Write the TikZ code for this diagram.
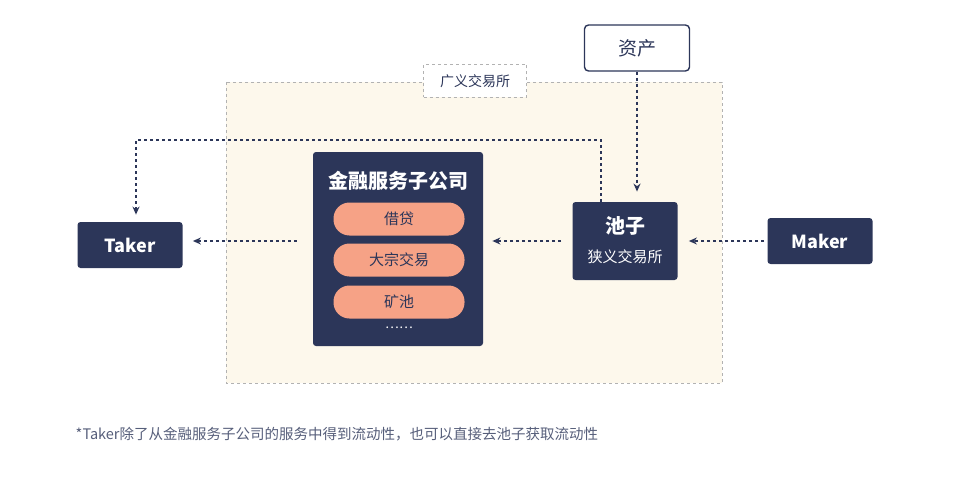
\documentclass[tikz,border=0pt]{standalone}
\usepackage{fontspec}
\setmainfont{Noto Sans CJK SC}
\usetikzlibrary{arrows.meta}
\definecolor{navy}{HTML}{2C3659}
\definecolor{salmon}{HTML}{F6A286}
\definecolor{cream}{HTML}{FDF8EC}
\begin{document}
\begin{tikzpicture}[x=1pt, y=-1pt, thick,
    dark/.style = {fill=navy, rounded corners=3pt, text=white, font=\fontsize{18}{20}\selectfont\bfseries, minimum width=105pt, minimum height=46pt},
    pill/.style = {fill=salmon, rounded corners=16pt, text=navy, font=\fontsize{15}{17}\selectfont, minimum width=131pt, minimum height=33pt},
    flow/.style = {navy, dashed, line width=1.4pt, -{Stealth[length=8pt,width=7pt]}}]
    \useasboundingbox (0,0) rectangle (960,476);
    \fill[cream] (226,82) rectangle (722,383);
    \draw[gray!60, dashed, line width=0.8pt] (226,82) rectangle (722,383);
    \node[draw=gray!60, dashed, fill=white, line width=0.8pt, minimum width=103pt, minimum height=33pt, font=\fontsize{14}{16}\selectfont, text=navy] (wide) at (475,81) {广义交易所};

    \node[draw=navy, fill=white, line width=1.4pt, rounded corners=4pt, minimum width=105pt, minimum height=46pt, font=\fontsize{19}{21}\selectfont, text=navy] (asset) at (637,48) {资产};
    \node[dark] (taker) at (130,245) {Taker};
    \node[dark] (maker) at (820,241) {Maker};
    \node[dark, minimum height=78pt] (pool) at (625,241) {};
    \node[text=white, font=\fontsize{20}{22}\selectfont\bfseries] (poolname) at (625,226) {池子};
    \node[text=white, font=\fontsize{15}{17}\selectfont] (poolsub) at (625,257) {狭义交易所};
    \node[dark, minimum width=170pt, minimum height=194pt] (fin) at (398,249) {};
    \node[text=white, font=\fontsize{20}{22}\selectfont\bfseries] (finname) at (398,181) {金融服务子公司};
    \node[pill] (loan) at (399,219) {借贷};
    \node[pill] (bulk) at (399,260) {大宗交易};
    \node[pill] (mine) at (399,302) {矿池};
    \node[text=white, font=\fontsize{13}{15}\selectfont] (more) at (399,328) {……};

    \node[font=\fontsize{14.5}{16}\selectfont, text=navy!80, anchor=west] (note) at (72,434) {*Taker除了从金融服务子公司的服务中得到流动性，也可以直接去池子获取流动性};

    \draw[flow, shorten <=3pt, shorten >=11pt] (maker.west) -- (pool.east |- maker.west);
    \draw[flow, shorten <=11pt, shorten >=9pt] (pool.west) -- (fin.east |- pool.west);
    \draw[flow, shorten <=16pt, shorten >=10pt] (fin.west |- pool.west) -- (taker.east |- pool.west);
    \draw[flow, shorten >=10pt] (asset.south) -- (asset.south |- pool.north);
    \coordinate (up) at (601,140);
    \draw[flow, shorten >=7pt] ([xshift=-24pt]pool.north) -- (up) -| ([xshift=6pt]taker.north);
\end{tikzpicture}
\end{document}
